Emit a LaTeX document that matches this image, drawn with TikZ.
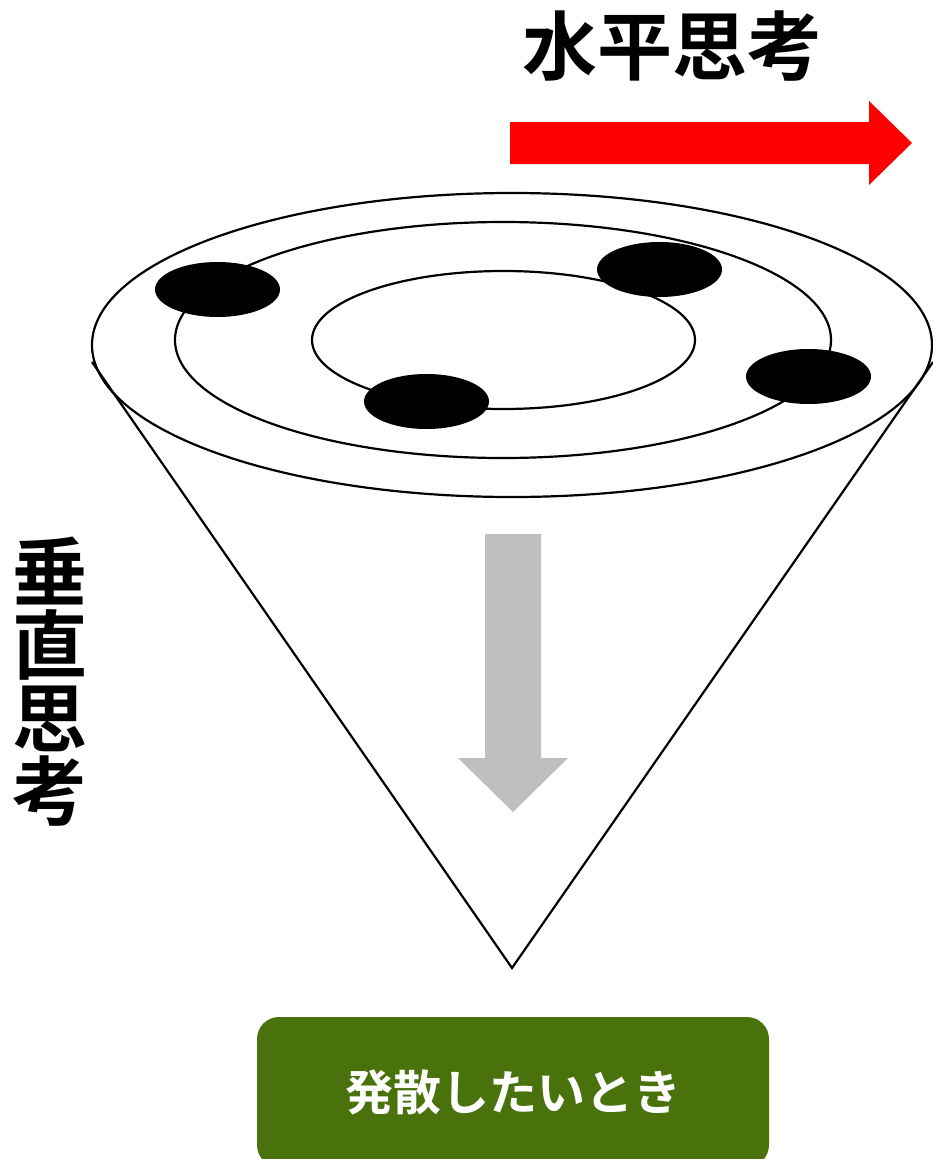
\documentclass[tikz,border=0pt]{standalone}
\usepackage{fontspec}
\usepackage{tikz}
\usetikzlibrary{shapes.geometric, positioning, calc}
\newfontfamily\jpbold{Noto Sans CJK JP Bold}
\definecolor{Leaf_Green}{HTML}{4A720C}
\definecolor{Arrow_Gray}{HTML}{BFBFBF}

\tikzset{
    ring/.style={draw=black, line width=2.2pt},
    dot/.style={ellipse, fill=black, minimum width=125pt, minimum height=55pt, inner sep=0pt},
    bigtitle/.style={font=\jpbold\fontsize{75pt}{73pt}\selectfont, inner sep=0pt},
}

\begin{document}
\begin{tikzpicture}[x=1pt, y=-1pt]
    \useasboundingbox (0,0) rectangle (933,1159);
    \clip (0,0) rectangle (933,1159);

    % heading and horizontal arrow
    \node (hz) [bigtitle] at (672,46) {水平思考};
    \fill[red] (510,122) -- (869,122) -- (869,101) -- (912,143) -- (869,185) -- (869,164) -- (510,164) -- cycle;

    % cone
    \coordinate (tip) at (512,968);
    \coordinate (lrim) at (92,362);
    \coordinate (rrim) at (933,362);
    \draw[line width=2.2pt, line join=miter] (lrim) -- (tip) -- (rrim);

    % rings
    \draw[ring] (512,345) ellipse [x radius=420, y radius=152];
    \draw[ring] (503,340) ellipse [x radius=328, y radius=118];
    \draw[ring] (503.5,340) ellipse [x radius=191.5, y radius=69];

    % ideas
    \node (d1) [dot] at (217.5,289.5) {};
    \node (d2) [dot] at (659.5,269.5) {};
    \node (d3) [dot] at (426.5,401.5) {};
    \node (d4) [dot] at (808.5,376.5) {};

    % vertical arrow
    \fill[Arrow_Gray] (485,534) -- (541,534) -- (541,758) -- (568,758) -- (513,812) -- (458,758) -- (485,758) -- cycle;

    % vertical heading
    \node (vt) [bigtitle, align=center] at (50,682) {垂\\直\\思\\考};

    % when to use
    \node (use) [fill=Leaf_Green, rounded corners=22pt, minimum width=512pt, minimum height=150pt, inner sep=0pt, text=white, font=\jpbold\fontsize{48pt}{48pt}\selectfont] at (513,1092) {発散したいとき};
\end{tikzpicture}
\end{document}
